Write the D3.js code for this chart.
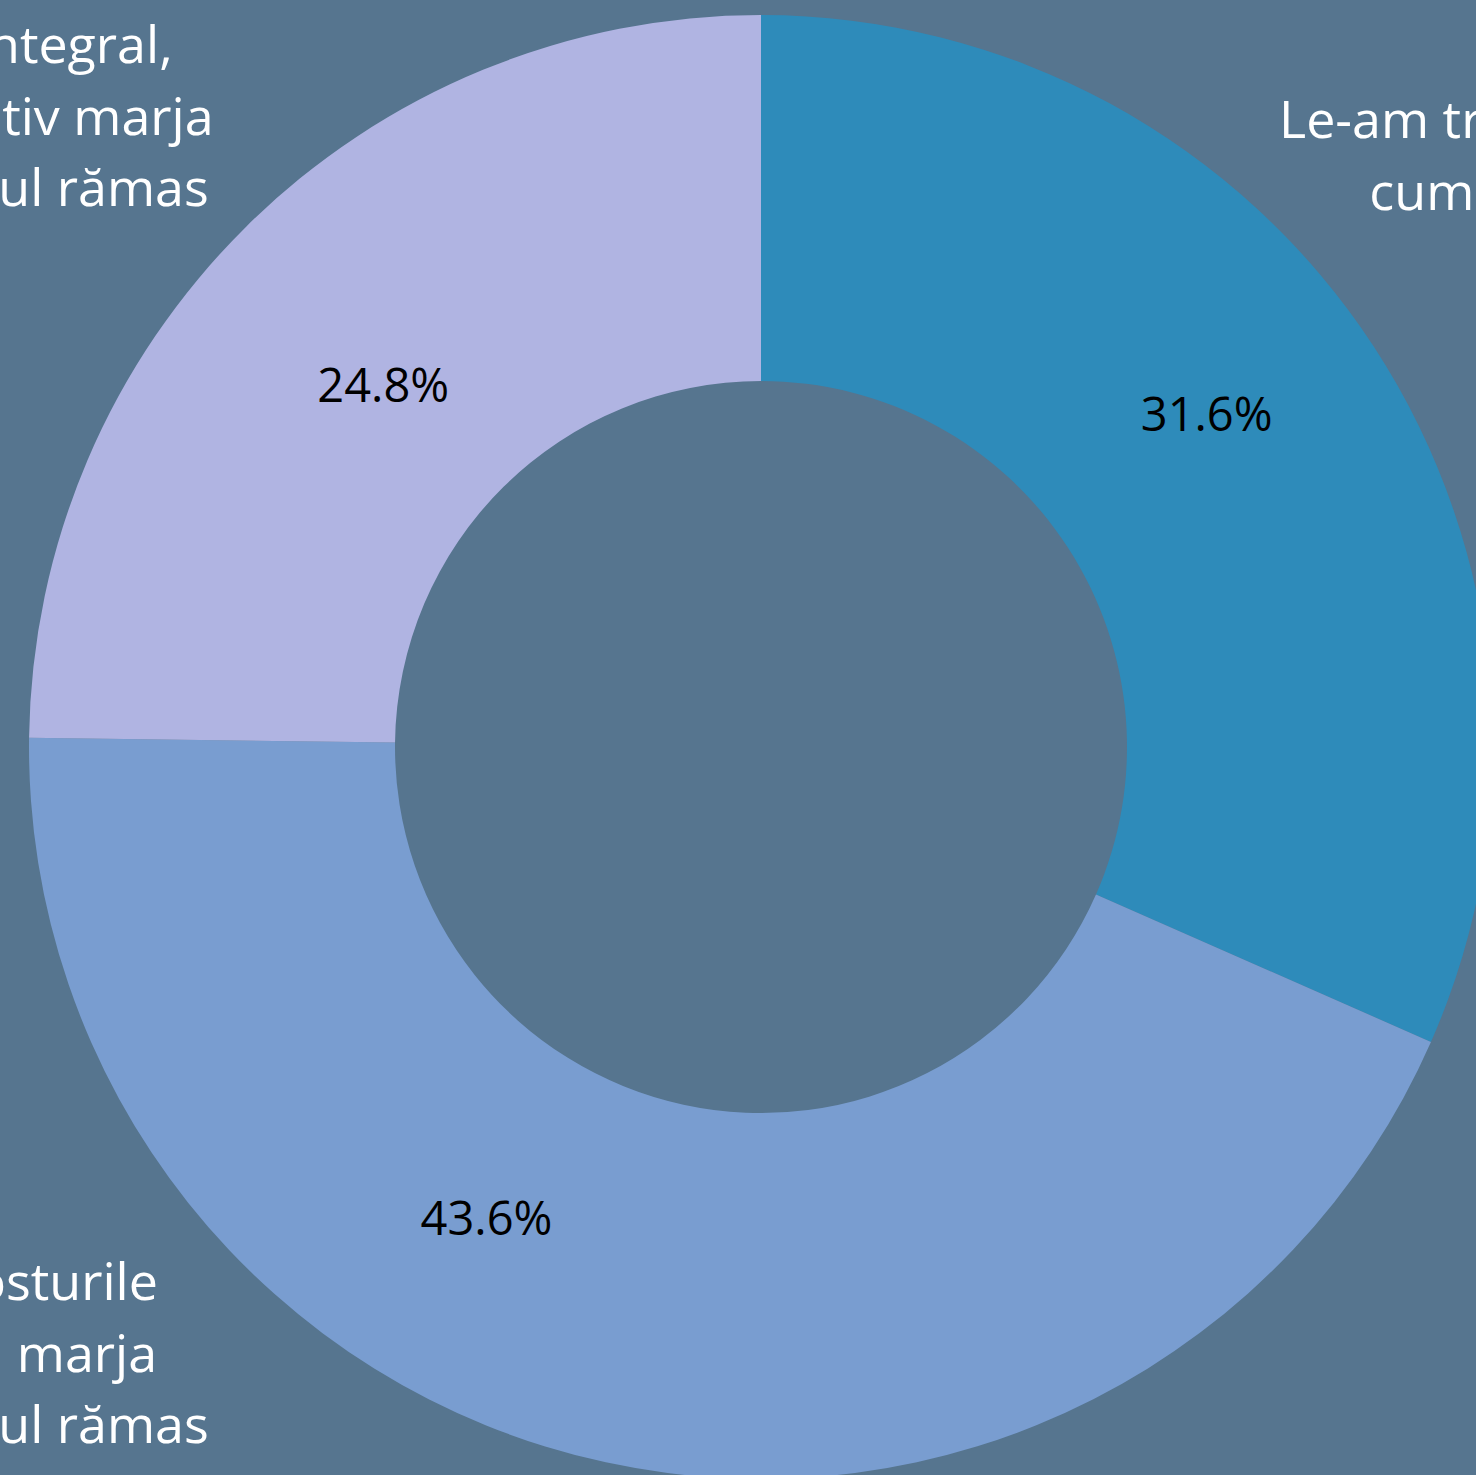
<!DOCTYPE html>
<html>
<head>
<meta charset="utf-8">
<script src="https://cdn.jsdelivr.net/npm/d3@7"></script>
<style>
  html, body { margin: 0; padding: 0; background: #56758F; overflow: hidden; }
  svg { display: block; }
</style>
</head>
<body>
<svg id="chart" width="1476" height="1475"></svg>
<script>
// ---- data ----
const categories = [
  ["Le-am transferat integral,", "cum erau și marja"],
  ["Am transmis în costurile", "dar ne-am scăzut\u00A0 marja", "de profit pe tot costul rămas"],
  ["Le-am transferat integral,", "și adăugând cumulativ marja", "de profit pe tot costul rămas"]
];
const values = [31.6, 43.6, 24.8];
const colors = ["#2E8BBA", "#799DD0", "#B0B4E2"];

// ---- layout ----
const W = 1476, H = 1475;
const cx = 761, cy = 747;
const outerR = 732, innerR = 366;
const bg = "#56758F";
// percentage label placement (polar, relative to slice centroid angle)
const pctAngleShift = [-3.6, 18, -1.6];   // degrees
const pctRadius = [556, 545, 523];
// outer category label placement (relative to chart centre)
const outerLabelLayout = [
  { anchor: "start", dx: 518, dy: -609 },
  { anchor: "middle", dx: -896.2, dy: 553 },
  { anchor: "middle", dx: -896.2, dy: -683.7 }
];
const lineH = 71.5;
const fontFam = "'Open Sans', 'Noto Sans', sans-serif";

const svg = d3.select("#chart");
svg.append("rect").attr("width", W).attr("height", H).attr("fill", bg);

const g = svg.append("g").attr("transform", `translate(${cx},${cy})`);

const pie = d3.pie().sort(null).value(d => d);
const arcs = pie(values);
const arc = d3.arc().innerRadius(innerR).outerRadius(outerR);

g.selectAll("path.slice")
  .data(arcs)
  .join("path")
  .attr("class", "slice")
  .attr("d", arc)
  .attr("fill", (d, i) => colors[i]);

// percentage labels
g.selectAll("text.pct")
  .data(arcs)
  .join("text")
  .attr("class", "pct")
  .attr("transform", (d, i) => {
    const a = (d.startAngle + d.endAngle) / 2 + pctAngleShift[i] * Math.PI / 180;
    const r = pctRadius[i];
    return `translate(${r * Math.sin(a)},${-r * Math.cos(a)})`;
  })
  .attr("text-anchor", "middle")
  .attr("dy", "0.36em")
  .attr("font-family", fontFam)
  .attr("font-size", 47)
  .attr("fill", "#000")
  .text(d => d3.format(".1f")(d.value) + "%");

// outer category labels (multi-line, centred lines)
const lab = g.selectAll("text.cat")
  .data(arcs)
  .join("text")
  .attr("class", "cat")
  .attr("font-family", fontFam)
  .attr("font-size", 52)
  .attr("fill", "#FFFFFF");

lab.each(function(d, i) {
  const t = d3.select(this);
  const L = outerLabelLayout[i];
  categories[i].forEach((s, k) => {
    t.append("tspan").attr("x", 0).attr("y", k * lineH).text(s);
  });
  const spans = t.selectAll("tspan").nodes();
  const widths = spans.map(n => n.getComputedTextLength());
  const centre = L.anchor === "start" ? L.dx + widths[0] / 2 : L.dx;
  spans.forEach((n, k) => d3.select(n).attr("x", centre - widths[k] / 2));
  t.attr("transform", `translate(0,${L.dy})`);
});
</script>
</body>
</html>
